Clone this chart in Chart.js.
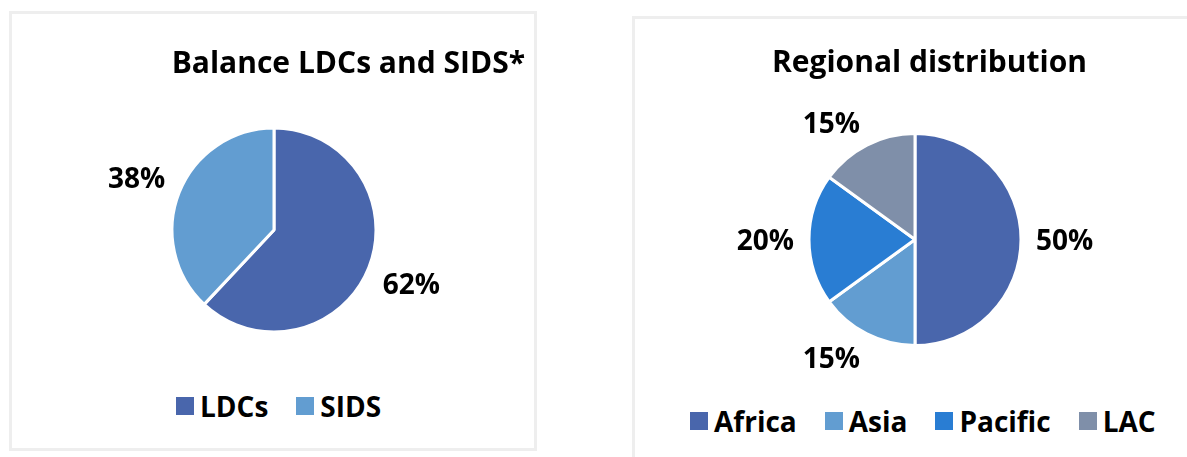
<!DOCTYPE html>
<html>
<head>
<meta charset="utf-8">
<script src="https://cdn.jsdelivr.net/npm/chart.js@4.4.1/dist/chart.umd.min.js"></script>
<style>
  body { margin: 0; background: #fff; width: 1187px; height: 457px; overflow: hidden; position: relative;
         font-family: "Segoe UI", "Open Sans", sans-serif; }
  .panel { position: absolute; box-sizing: border-box; border: 3px solid #eeeeee; }
  canvas { position: absolute; }
  .legend { position: absolute; display: flex; align-items: center; height: 30px; line-height: 30px;
            font-weight: 700; font-size: 28px; color: #000; white-space: nowrap; }
  .legend .item { display: flex; align-items: center; margin-right: 28px; }
  .legend .box { display: inline-block; width: 18px; height: 18px; margin-right: 6px; }
</style>
</head>
<body>
<div class="panel" style="left:9px;top:11px;width:528px;height:440px;"></div>
<div class="panel" style="left:632px;top:16px;width:600px;height:500px;"></div>

<canvas id="balance" width="524" height="360" style="left:11px;top:14px;"></canvas>
<canvas id="regional" width="462" height="370" style="left:635px;top:18px;"></canvas>

<div class="legend" id="balance-legend" style="left:176px;top:391px;"></div>
<div class="legend" id="regional-legend" style="left:690px;top:406px;"></div>

<script>
const balanceLabels = ["LDCs", "SIDS"];
const balanceValues = [62, 38];
const balanceColors = ["#4966ac", "#629dd1"];

const regionLabels = ["Africa", "Asia", "Pacific", "LAC"];
const regionValues = [50, 15, 20, 15];
const regionColors = ["#4966ac", "#629dd1", "#297dd3", "#7f8fa9"];

const FONT = "'Segoe UI', 'Open Sans', sans-serif";

// percentage labels just outside each slice, pushed away like Excel's "outside end"
const outsideLabels = {
  id: "outsideLabels",
  afterDatasetsDraw(chart) {
    const { ctx } = chart;
    const meta = chart.getDatasetMeta(0);
    const values = chart.data.datasets[0].data;
    ctx.save();
    ctx.font = `700 28px ${FONT}`;
    ctx.fillStyle = "#000";
    ctx.textAlign = "center";
    ctx.textBaseline = "middle";
    meta.data.forEach((arc, i) => {
      const p = arc.getProps(["x", "y", "startAngle", "endAngle", "outerRadius"], true);
      const mid = (p.startAngle + p.endAngle) / 2;
      const ux = Math.cos(mid);
      const uy = Math.sin(mid);
      const text = `${values[i]}%`;
      const w = ctx.measureText(text).width;
      const sx = Math.abs(ux) < 0.02 ? 0 : Math.sign(ux);
      const sy = Math.abs(uy) < 0.02 ? 0 : Math.sign(uy);
      const d = p.outerRadius + 15;
      ctx.fillText(text, p.x + ux * d + sx * w / 2, p.y + uy * d + sy * 10 + 3);
    });
    ctx.restore();
  },
};

function buildLegend(elId, labels, colors) {
  const el = document.getElementById(elId);
  labels.forEach((label, i) => {
    const item = document.createElement("span");
    item.className = "item";
    const box = document.createElement("span");
    box.className = "box";
    box.style.background = colors[i];
    item.appendChild(box);
    item.appendChild(document.createTextNode(label));
    el.appendChild(item);
  });
}

function makePie(canvasId, labels, values, colors, title, radius, padding, titlePadding) {
  return new Chart(document.getElementById(canvasId), {
    type: "pie",
    data: {
      labels,
      datasets: [{
        data: values,
        backgroundColor: colors,
        borderColor: "#ffffff",
        borderWidth: 3,
        radius,
      }],
    },
    options: {
      responsive: false,
      animation: false,
      layout: { padding },
      plugins: {
        legend: { display: false },
        tooltip: { enabled: false },
        title: {
          display: true,
          text: title,
          align: "end",
          color: "#000",
          font: { family: FONT, size: 30, weight: "700" },
          padding: titlePadding,
        },
      },
    },
    plugins: [outsideLabels],
  });
}

makePie("balance", balanceLabels, balanceValues, balanceColors, "Balance LDCs and SIDS*", 102,
  { left: 12, right: 10, top: 0, bottom: 28 }, { top: 32, bottom: 32 });
makePie("regional", regionLabels, regionValues, regionColors, "Regional distribution", 106,
  { left: 108, right: 10, top: 0, bottom: 26 }, { top: 27, bottom: 36 });

buildLegend("balance-legend", balanceLabels, balanceColors);
buildLegend("regional-legend", regionLabels, regionColors);
</script>
</body>
</html>
